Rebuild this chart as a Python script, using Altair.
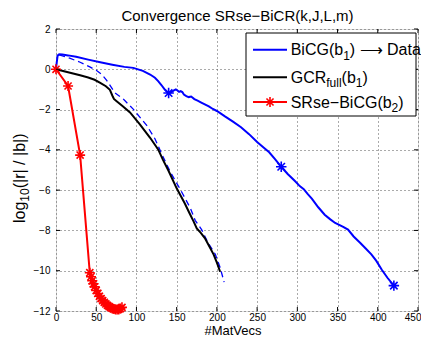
import altair as alt
import pandas as pd

FONT = "Liberation Sans"

# ---------------- data ----------------
# BiCG(b1) -> Data  (solid blue)
bicg_x = [0, 2, 4, 8, 15, 25, 40, 55, 70, 85, 96, 108, 117, 123, 127, 131, 135, 138, 140,
          143, 146, 149, 151, 153, 155, 157, 159, 162, 165, 168, 172, 176, 180, 185, 190,
          195, 200, 205, 210, 220, 230, 240, 250, 258, 265, 272, 280, 288, 297, 303, 308,
          313, 318, 326, 334, 341, 347, 352, 357, 363, 370, 378, 385, 392, 398, 405, 412, 420]
bicg_y = [0.05, 0.68, 0.74, 0.73, 0.69, 0.62, 0.48, 0.35, 0.23, 0.12, 0.07, -0.08, -0.26, -0.42,
          -0.59, -0.78, -1.0, -1.12, -1.17, -1.14, -1.06, -1.0, -1.05, -1.12, -1.08, -1.13,
          -1.25, -1.33, -1.38, -1.35, -1.48, -1.56, -1.64, -1.74, -1.84, -1.97, -2.07, -2.2,
          -2.34, -2.6, -2.88, -3.22, -3.61, -3.88, -4.12, -4.45, -4.84, -5.2, -5.55, -5.8,
          -5.95, -6.2, -6.42, -6.85, -7.22, -7.45, -7.63, -7.72, -7.82, -7.96, -8.3, -8.61,
          -8.9, -9.19, -9.5, -9.95, -10.35, -10.74]
bicg_mark_x = [140, 280, 420]
bicg_mark_y = [-1.18, -4.84, -10.74]

# dashed blue
dash_x = [4, 17, 30, 42, 50, 57, 63, 69, 73, 84, 96, 113, 123, 132, 142, 155, 167, 173, 181,
          189, 198, 204, 209]
dash_y = [0.72, 0.55, 0.35, 0.12, -0.05, -0.26, -0.55, -0.91, -1.16, -1.49, -1.98, -2.8,
          -3.45, -4.25, -5.09, -6.0, -6.89, -7.5, -7.96, -8.61, -9.18, -9.84, -10.57]

# GCR_full(b1)  (black)
gcr_x = [0, 10, 20, 30, 40, 48, 55, 62, 67, 70, 72, 75, 83, 92, 104, 117, 127, 133, 140, 150,
         160, 166, 171, 175, 180, 185, 190, 196, 200, 204]
gcr_y = [0.0, -0.1, -0.2, -0.3, -0.41, -0.52, -0.67, -0.84, -1.02, -1.3, -1.47, -1.57, -1.83,
         -2.14, -2.72, -3.4, -3.98, -4.5, -5.05, -5.91, -6.65, -7.15, -7.55, -7.9, -8.12, -8.38,
         -8.75, -9.2, -9.6, -10.05]

# SRse-BiCG(b2)  (red with asterisks)
sr_x = [0, 15, 30, 42, 43.5, 45, 46.5, 48, 50, 52, 54, 56, 58, 60, 62, 64, 66, 68, 70, 72,
        74, 76, 78, 80, 82]
sr_y = [0.0, -0.83, -4.26, -10.1, -10.3, -10.5, -10.65, -10.8, -10.98, -11.13, -11.27, -11.38,
        -11.48, -11.57, -11.65, -11.72, -11.78, -11.83, -11.87, -11.9, -11.92, -11.93, -11.92,
        -11.88, -11.82]

x_ticks = [0, 50, 100, 150, 200, 250, 300, 350, 400, 450]
y_ticks = [-12, -10, -8, -6, -4, -2, 0, 2]

title_text = "Convergence SRse\u2212BiCR(k,J,L,m)"
x_title = "#MatVecs"
y_title_parts = ["log", "10", "(|r| / |b|)"]
legend_parts = [
    ["BiCG(b", "1", ") \u27f6 Data"],
    ["GCR", "full", "(b", "1", ")"],
    ["SRse\u2212BiCG(b", "2", ")"],
]

BLUE = "#0000ff"
RED = "#ff0000"
BLACK = "#000000"
STAR = "M-1,0L1,0M0,-1L0,1M-0.71,-0.71L0.71,0.71M-0.71,0.71L0.71,-0.71"

W, H = 362, 282

# Arial / Liberation Sans advance widths (per em) for placing text pieces
AW = {"B": .667, "i": .222, "C": .722, "G": .778, "(": .333, "b": .556, ")": .333, " ": .278,
      "D": .722, "a": .556, "t": .278, "R": .722, "S": .667, "s": .5, "e": .556,
      "\u2212": .584, "f": .278, "u": .556, "l": .222, "o": .556, "g": .556,
      "1": .556, "2": .556, "0": .556}


def tw(s, size):
    return sum(AW.get(c, .556) for c in s) * size


xs = alt.Scale(domain=[0, 450], nice=False, zero=False)
ys = alt.Scale(domain=[-12, 2], nice=False, zero=False)

last_x = x_ticks[-1]
xaxis = alt.Axis(values=x_ticks, format="d", labelFont=FONT, labelFontSize=10,
                 labelColor="black", ticks=False, domain=False, grid=True,
                 gridDash=[1, 3], gridColor="#555555", gridWidth=1, labelPadding=1,
                 labelFlush=False, labelOverlap=False, title=None,
                 labelAlign={"condition": {"test": f"datum.value === {last_x}", "value": "right"},
                             "value": "center"},
                 labelOffset={"condition": {"test": f"datum.value === {last_x}", "value": 3},
                              "value": 0})
yaxis = alt.Axis(values=y_ticks, format="d", labelFont=FONT, labelFontSize=10,
                 labelColor="black", ticks=False, domain=False, grid=True,
                 gridDash=[1, 3], gridColor="#555555", gridWidth=1, labelPadding=6,
                 labelFlush=False, labelOverlap=False, title=None)

X = alt.X("x:Q", scale=xs, axis=xaxis)
Y = alt.Y("y:Q", scale=ys, axis=yaxis)

df_bicg = pd.DataFrame({"x": bicg_x, "y": bicg_y})
df_bmark = pd.DataFrame({"x": bicg_mark_x, "y": bicg_mark_y})
df_dash = pd.DataFrame({"x": dash_x, "y": dash_y})
df_gcr = pd.DataFrame({"x": gcr_x, "y": gcr_y})
df_sr = pd.DataFrame({"x": sr_x, "y": sr_y})
df_xt = pd.DataFrame({"x": x_ticks})
df_yt = pd.DataFrame({"y": y_ticks})
one = pd.DataFrame({"a": [0]})

dash_line = alt.Chart(df_dash).mark_line(color=BLUE, strokeWidth=1.3, strokeDash=[6, 4]).encode(x=X, y=Y)
bicg_line = alt.Chart(df_bicg).mark_line(color=BLUE, strokeWidth=2).encode(x=X, y=Y)
bicg_pts = alt.Chart(df_bmark).mark_point(shape=STAR, filled=False, color=BLUE, size=110,
                                          strokeWidth=1.6, opacity=1).encode(x=X, y=Y)
gcr_line = alt.Chart(df_gcr).mark_line(color=BLACK, strokeWidth=2).encode(x=X, y=Y)
sr_line = alt.Chart(df_sr).mark_line(color=RED, strokeWidth=2).encode(x=X, y=Y)
sr_pts = alt.Chart(df_sr).mark_point(shape=STAR, filled=False, color=RED, size=100,
                                     strokeWidth=1.6, opacity=1).encode(x=X, y=Y)

# inward ticks on all four sides
tick_b = alt.Chart(df_xt).mark_rule(color=BLACK, strokeWidth=1).encode(x=X, y=alt.value(H), y2=alt.value(H - 4))
tick_t = alt.Chart(df_xt).mark_rule(color=BLACK, strokeWidth=1).encode(x=X, y=alt.value(0), y2=alt.value(4))
tick_l = alt.Chart(df_yt).mark_rule(color=BLACK, strokeWidth=1).encode(y=Y, x=alt.value(0), x2=alt.value(4))
tick_r = alt.Chart(df_yt).mark_rule(color=BLACK, strokeWidth=1).encode(y=Y, x=alt.value(W), x2=alt.value(W - 4))


def txt(s, x, y, size=15, align="left", angle=0):
    kw = dict(align=align, baseline="alphabetic", font=FONT, fontSize=size, color=BLACK)
    if angle:
        kw["angle"] = angle
    return alt.Chart(one).mark_text(**kw).encode(
        x=alt.value(x), y=alt.value(y), text=alt.value(s))


# legend (drawn manually to get subscripts)
lx0, lx1, ly0, ly1 = 190, 360, 4, 87
rows = [20.7, 48.3, 73]
tx = 234.7
LF, SF = 16, 12
leg_box = alt.Chart(one).mark_rect(fill="white", stroke=BLACK, strokeWidth=1).encode(
    x=alt.value(lx0), x2=alt.value(lx1), y=alt.value(ly0), y2=alt.value(ly1))
leg_lines = []
for yy, col in zip(rows, [BLUE, BLACK, RED]):
    leg_lines.append(alt.Chart(one).mark_rule(color=col, strokeWidth=2).encode(
        x=alt.value(197), x2=alt.value(231), y=alt.value(yy)))
leg_star = alt.Chart(one).mark_point(shape=STAR, filled=False, color=RED, size=100,
                                     strokeWidth=1.6, opacity=1).encode(
    x=alt.value(214), y=alt.value(rows[2]))

leg_texts = []
for parts, yy in zip(legend_parts, rows):
    cx = tx
    for k, p in enumerate(parts):
        is_sub = (k % 2 == 1)
        size = SF if is_sub else LF
        leg_texts.append(txt(p, cx, yy + (10 if is_sub else 5.5), size=size))
        cx += tw(p, size)

# title and axis titles as text
title_mark = txt(title_text, W / 2 + 0.5, -8.2, size=15, align="center")
xtitle_mark = txt(x_title, W / 2 - 4, H + 24, size=13, align="center")

YF, YSF = 16, 12
ytitle_marks = []
cy = 194
for k, p in enumerate(y_title_parts):
    is_sub = (k % 2 == 1)
    size = YSF if is_sub else YF
    ytitle_marks.append(txt(p, -31 + (4 if is_sub else 0), cy, size=size, angle=270))
    cy -= tw(p, size)

chart = alt.layer(
    dash_line, bicg_line, gcr_line, bicg_pts, sr_line, sr_pts,
    tick_b, tick_t, tick_l, tick_r,
    leg_box, *leg_lines, leg_star, *leg_texts, title_mark, xtitle_mark, *ytitle_marks,
).properties(
    width=W, height=H,
    autosize=alt.AutoSizeParams(type="none"),
    padding={"left": 48, "top": 21, "right": 3, "bottom": 27},
).configure_view(stroke=BLACK, strokeWidth=1).configure(background="white")

chart.save("out.html", embed_options={"renderer": "svg", "actions": False})
